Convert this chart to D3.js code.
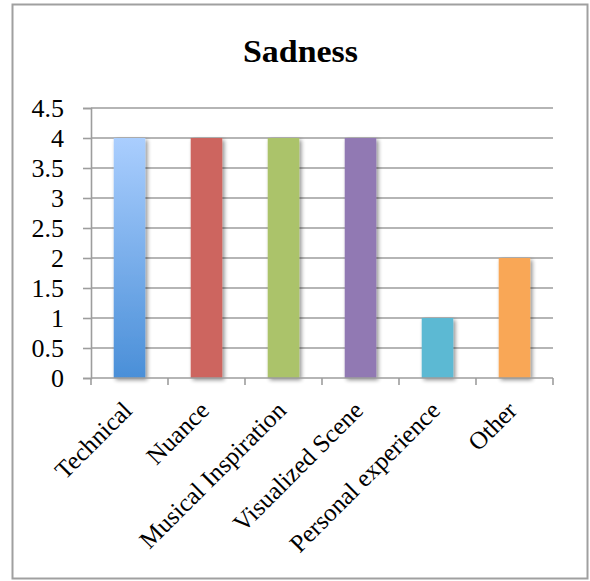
<!DOCTYPE html>
<html>
<head>
<meta charset="utf-8">
<script src="https://cdn.jsdelivr.net/npm/d3@7"></script>
<style>
  html, body { margin: 0; padding: 0; background: #fff; }
  svg { display: block; }
  text { font-family: "Liberation Serif", "DejaVu Serif", serif; fill: #000; }
</style>
</head>
<body>
<svg id="chart" width="590" height="581"></svg>
<script>
// Responses per reason category for "Sadness"
const categories = ["Technical", "Nuance", "Musical Inspiration", "Visualized Scene", "Personal experience", "Other"];
const values = [4, 4, 4, 4, 1, 2];
const colors = ["#4a8fd8", "#cd655e", "#abc36b", "#9179b3", "#5bb9d3", "#f9a756"];
const yTicks = [0, 0.5, 1, 1.5, 2, 2.5, 3, 3.5, 4, 4.5];
const title = "Sadness";

const svg = d3.select("#chart");
const plot = { left: 91, right: 553, top: 108, bottom: 378 };

const defs = svg.append("defs");
// Light-to-dark blue fill for the first bar
const grad = defs.append("linearGradient")
  .attr("id", "blueGrad").attr("x1", 0).attr("y1", 0).attr("x2", 0).attr("y2", 1);
grad.append("stop").attr("offset", "0%").attr("stop-color", "#aacefe");
grad.append("stop").attr("offset", "100%").attr("stop-color", "#4a8fd8");

// Soft drop shadow behind the bars
const shadow = defs.append("filter").attr("id", "barShadow")
  .attr("x", "-30%").attr("y", "-10%").attr("width", "160%").attr("height", "125%");
shadow.append("feGaussianBlur").attr("in", "SourceAlpha").attr("stdDeviation", 2.2).attr("result", "blur");
shadow.append("feOffset").attr("in", "blur").attr("dx", 1.5).attr("dy", 2).attr("result", "off");
shadow.append("feComponentTransfer").attr("in", "off").attr("result", "faded")
  .append("feFuncA").attr("type", "linear").attr("slope", 0.45);
const merge = shadow.append("feMerge");
merge.append("feMergeNode").attr("in", "faded");
merge.append("feMergeNode").attr("in", "SourceGraphic");

// Outer frame
svg.append("rect")
  .attr("x", 12.5).attr("y", 4.5).attr("width", 575).attr("height", 574)
  .attr("fill", "#fff").attr("stroke", "#a0a0a0").attr("stroke-width", 2);

// Title
svg.append("text")
  .attr("x", 300.5).attr("y", 62)
  .attr("text-anchor", "middle")
  .attr("font-size", 32).attr("font-weight", "bold")
  .attr("textLength", 115).attr("lengthAdjust", "spacingAndGlyphs")
  .text(title);

const pad = 0.59;
const x = d3.scaleBand()
  .domain(categories)
  .range([plot.left, plot.right])
  .paddingInner(pad)
  .paddingOuter(pad / 2);

const y = d3.scaleLinear()
  .domain([0, 4.5])
  .range([plot.bottom, plot.top]);

const step = x.step();

// Horizontal gridlines
svg.append("g").selectAll("line")
  .data(yTicks.filter(t => t > 0))
  .join("line")
  .attr("x1", plot.left).attr("x2", plot.right)
  .attr("y1", d => y(d)).attr("y2", d => y(d))
  .attr("stroke", "#9d9d9d").attr("stroke-width", 1.6);

// Y axis
const yAxis = svg.append("g")
  .attr("transform", `translate(${plot.left},0)`)
  .call(d3.axisLeft(y).tickValues(yTicks).tickSize(8).tickPadding(19)
        .tickFormat(d => String(d)));
yAxis.select(".domain").attr("stroke", "#9d9d9d").attr("stroke-width", 1.6);
yAxis.selectAll(".tick line").attr("stroke", "#9d9d9d").attr("stroke-width", 1.6);
yAxis.selectAll(".tick text")
  .attr("font-family", "Liberation Serif, DejaVu Serif, serif")
  .attr("font-size", 26).attr("fill", "#000").attr("dy", "0.33em");

// Bars
svg.append("g").selectAll("rect")
  .data(categories.map((c, i) => ({ c, v: values[i], i })))
  .join("rect")
  .attr("x", d => x(d.c))
  .attr("y", d => y(d.v))
  .attr("width", x.bandwidth())
  .attr("height", d => y(0) - y(d.v))
  .attr("fill", d => d.i === 0 ? "url(#blueGrad)" : colors[d.i])
  .attr("filter", "url(#barShadow)");

// X axis with ticks at category boundaries
const bounds = categories.map(c => x(c) - step * pad / 2).concat([plot.right]);
const xAxis = svg.append("g");
xAxis.append("line")
  .attr("x1", plot.left).attr("x2", plot.right)
  .attr("y1", plot.bottom).attr("y2", plot.bottom)
  .attr("stroke", "#9d9d9d").attr("stroke-width", 1.6);
xAxis.selectAll("line.tk")
  .data(bounds)
  .join("line").attr("class", "tk")
  .attr("x1", d => d).attr("x2", d => d)
  .attr("y1", plot.bottom).attr("y2", plot.bottom + 7)
  .attr("stroke", "#9d9d9d").attr("stroke-width", 1.6);

// Rotated category labels
xAxis.selectAll("text")
  .data(categories)
  .join("text")
  .attr("text-anchor", "end")
  .attr("font-size", 25)
  .attr("transform", d => {
    const cx = x(d) + x.bandwidth() / 2 + 4;
    const cy = plot.bottom + 34;
    return `translate(${cx},${cy}) rotate(-45)`;
  })
  .text(d => d);
</script>
</body>
</html>
